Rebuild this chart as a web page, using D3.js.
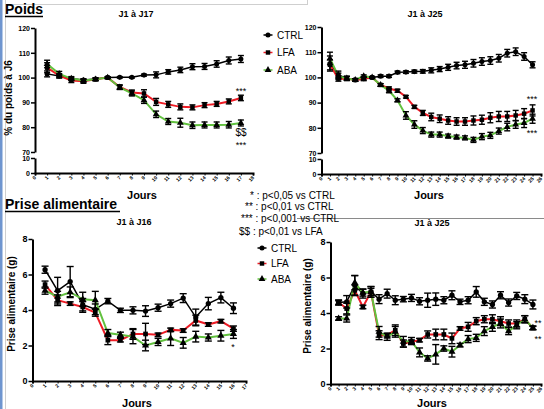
<!DOCTYPE html>
<html>
<head>
<meta charset="utf-8">
<script src="https://cdn.jsdelivr.net/npm/d3@7"></script>
<style>
  body { margin: 0; background: #fff; }
  svg { display: block; font-family: "Liberation Sans", Arial, sans-serif; }
  .tick text { fill: #000; }
</style>
</head>
<body>
<div id="chart"></div>
<script>
// ---- data ----
const series = ["CTRL", "LFA", "ABA"];
const seriesColors = ["#000000", "#ee1c25", "#62c13f"];

const daysJ17 = [1, 2, 3, 4, 5, 6, 7, 8, 9, 10, 11, 12, 13, 14, 15, 16, 17];
const poids17Ctrl = [101.5, 100.6, 99.6, 99.0, 99.4, 100, 100.1, 100.1, 101.0, 101.1, 102.3, 103.1, 104.4, 104.5, 105.5, 106.9, 107.5];
const poids17CtrlErr = [1.2, 0.8, 0.5, 0.5, 0.5, 0.3, 0.3, 0.3, 0.4, 1.2, 0.9, 1.1, 1.2, 1.2, 1.3, 1.4, 1.4];
const poids17Lfa = [104, 100.8, 98.8, 98.5, 99.3, 100, 96.2, 94.0, 93.6, 90.2, 89.2, 88.2, 88.0, 88.9, 89.4, 90.4, 91.8];
const poids17LfaErr = [2, 0.8, 0.8, 0.8, 0.5, 0.3, 0.9, 1.0, 1.5, 1.4, 1.2, 1.2, 1.0, 1.0, 1.0, 1.0, 1.1];
const poids17Aba = [105.5, 101.5, 99.6, 98.8, 99.3, 100, 96.0, 93.6, 90.9, 85.2, 82.3, 81.8, 80.8, 80.9, 80.9, 81.0, 81.7];
const poids17AbaErr = [1.5, 1.0, 0.8, 0.6, 0.5, 0.3, 0.8, 1.0, 1.3, 1.3, 1.2, 1.8, 1.3, 1.2, 1.2, 1.3, 1.2];

const daysJ25 = [1, 2, 3, 4, 5, 6, 7, 8, 9, 10, 11, 12, 13, 14, 15, 16, 17, 18, 19, 20, 21, 22, 23, 24, 25];
const poids25Ctrl = [105.5, 101, 99.6, 99, 99.5, 100, 100.5, 100.5, 102, 102.1, 102.3, 102.4, 102.8, 103.3, 104, 104.7, 105, 105.6, 106.3, 106.7, 107.6, 109.6, 110.2, 108.3, 105];
const poids25CtrlErr = [3, 1.5, 0.8, 0.5, 0.8, 0.3, 0.5, 0.5, 0.5, 0.5, 0.6, 0.7, 1.0, 1.0, 1.2, 1.3, 1.4, 1.5, 1.5, 1.5, 1.5, 1.5, 1.5, 1.5, 1.2];
const poids25Lfa = [105, 99.5, 99.6, 99, 99.5, 100, 97, 95.6, 94.7, 92.3, 88.3, 85.9, 84.3, 83.6, 82.9, 82.5, 82.5, 82.9, 83.2, 84, 84.5, 84.5, 84.9, 85.6, 86.9];
const poids25LfaErr = [2, 1, 0.8, 0.5, 0.5, 0.3, 0.5, 0.6, 0.6, 0.5, 0.6, 1.0, 1.5, 1.5, 1.5, 1.5, 1.5, 1.8, 1.8, 2, 2, 2, 2, 2, 2.2];
const poids25Aba = [107.5, 100.5, 99.6, 99, 100.5, 100, 97, 94.7, 90.9, 84.9, 81.3, 78.9, 77.3, 77.3, 76.7, 76.3, 76, 75.2, 76.5, 77, 78.7, 80.3, 81.3, 81.9, 83.6];
const poids25AbaErr = [2.5, 1.2, 0.8, 0.5, 0.5, 0.3, 0.5, 0.8, 0.6, 1.5, 1.5, 1.2, 1.0, 1.0, 0.8, 0.8, 0.8, 1.0, 1.2, 1.2, 1.2, 1.5, 1.5, 1.8, 1.8];

const daysJ16 = [1, 2, 3, 4, 5, 6, 7, 8, 9, 10, 11, 12, 13, 14, 15, 16];
const prise16Ctrl = [6.27, 5.09, 5.6, 4.3, 4.04, 4.5, 3.98, 3.98, 3.94, 4.13, 4.36, 4.67, 3.6, 4.36, 4.7, 4.1];
const prise16CtrlErr = [0.2, 0.75, 0.85, 0.35, 0.3, 0.15, 0.12, 0.2, 0.3, 0.2, 0.2, 0.25, 0.45, 0.35, 0.3, 0.3];
const prise16Lfa = [5.43, 4.55, 4.36, 4.17, 3.85, 2.3, 2.3, 2.65, 2.65, 2.6, 2.88, 2.84, 3.41, 3.18, 3.37, 2.95];
const prise16LfaErr = [0.2, 0.3, 0.1, 0.3, 0.2, 0.25, 0.1, 0.3, 0.6, 0.1, 0.1, 0.1, 0.3, 0.1, 0.1, 0.15];
const prise16Aba = [5.09, 4.75, 5.0, 4.6, 4.55, 2.7, 2.6, 2.5, 2.0, 2.2, 2.4, 2.15, 2.5, 2.45, 2.55, 2.65];
const prise16AbaErr = [0.2, 0.3, 0.3, 0.4, 0.5, 0.2, 0.15, 0.4, 0.3, 0.2, 0.4, 0.3, 0.3, 0.2, 0.3, 0.25];

const prise25Ctrl = [4.59, 4.63, 5.56, 5.09, 5.19, 4.78, 5.09, 4.72, 4.78, 4.85, 4.66, 4.72, 4.78, 4.72, 5.0, 4.63, 4.72, 5.19, 4.63, 4.48, 5.0, 4.59, 4.96, 4.78, 4.48];
const prise25CtrlErr = [0.15, 0.35, 0.55, 0.25, 0.3, 0.25, 0.25, 0.25, 0.15, 0.2, 0.2, 0.4, 0.35, 0.2, 0.25, 0.15, 0.2, 0.3, 0.2, 0.2, 0.2, 0.2, 0.2, 0.25, 0.25];
const prise25Lfa = [4.59, 4.25, 5.28, 4.34, 5.19, 2.75, 2.75, 3.03, 2.28, 2.38, 2.47, 2.79, 2.79, 2.79, 2.57, 3.13, 3.22, 3.54, 3.65, 3.65, 3.54, 3.41, 3.41, 3.65, 3.16];
const prise25LfaErr = [0.1, 0.3, 0.3, 0.1, 0.2, 0.25, 0.1, 0.3, 0.2, 0.1, 0.1, 0.2, 0.3, 0.3, 0.3, 0.1, 0.25, 0.2, 0.2, 0.25, 0.25, 0.2, 0.2, 0.2, 0.1];
const prise25Aba = [3.69, 3.69, 5.71, 5.15, 5.19, 2.94, 2.66, 2.94, 2.38, 2.42, 1.78, 1.44, 1.67, 2.0, 1.82, 2.19, 2.53, 2.6, 2.98, 3.22, 3.41, 2.98, 3.31, 3.65, 3.16];
const prise25AbaErr = [0.1, 0.2, 0.4, 0.2, 0.3, 0.3, 0.2, 0.3, 0.3, 0.2, 0.25, 0.15, 0.55, 0.15, 0.3, 0.1, 0.2, 0.2, 0.25, 0.25, 0.25, 0.2, 0.2, 0.2, 0.1];

const poidsTicksUpper = [70, 80, 90, 100, 110, 120];
const poidsTicksLower = [0, 10];
const priseTicks = [0, 2, 4, 6, 8];
const statNotes = ["* : p<0,05 vs CTRL", "** : p<0,01 vs CTRL", "*** : p<0,001 vs CTRL", "$$ : p<0,01 vs LFA"];

// ---- svg ----
const W = 544, H = 409;
const svg = d3.select("#chart").append("svg")
    .attr("width", W)
    .attr("height", H);

svg.append("rect").attr("width", W).attr("height", H).attr("fill", "#fff");

// slide frame bits
svg.append("rect").attr("x", 0).attr("y", 0).attr("width", 2.5).attr("height", H).attr("fill", "#6f95cf");
svg.append("line").attr("x1", 5.5).attr("x2", 5.5).attr("y1", 0).attr("y2", H).attr("stroke", "#cfcfcf");
svg.append("line").attr("x1", 5).attr("x2", 307).attr("y1", 4.5).attr("y2", 4.5).attr("stroke", "#cfcfcf");
svg.append("line").attr("x1", 307.5).attr("x2", 307.5).attr("y1", 0).attr("y2", 5).attr("stroke", "#cfcfcf");
svg.append("line").attr("x1", 297).attr("x2", W).attr("y1", 218.5).attr("y2", 218.5).attr("stroke", "#8a8a8a");

const markerShapes = [d3.symbolCircle, d3.symbolSquare, d3.symbolTriangle];

const drawPanel = (cfg) => {
  const g = svg.append("g");
  const x = d3.scaleLinear().domain([0, cfg.xMax]).range(cfg.xRange);
  const y = cfg.yScale;

  // x axis
  const xAxis = g.append("g")
      .attr("transform", `translate(0,${cfg.xAxisY})`)
      .call(d3.axisBottom(x).tickValues(d3.range(0, cfg.xMax + 1)).tickSize(2.5).tickFormat(d3.format("d")));
  xAxis.select(".domain").attr("stroke-width", 2);
  xAxis.selectAll(".tick line").attr("stroke-width", 1);
  xAxis.selectAll(".tick text")
      .attr("font-size", 5)
      .attr("font-weight", "bold")
      .attr("text-anchor", "end")
      .attr("transform", "translate(0,4) rotate(-45)")
      .attr("dy", "0.3em")
      .attr("y", 0)
      .attr("x", 0);

  // y axis (one or two segments)
  cfg.yAxes.forEach(ax => {
    const a = g.append("g")
        .attr("transform", `translate(${cfg.xRange[0]},0)`)
        .call(d3.axisLeft(ax.scale).tickValues(ax.ticks).tickSize(4).tickSizeOuter(0).tickPadding(1));
    a.select(".domain").attr("stroke-width", 2);
    a.selectAll(".tick line").attr("stroke-width", 1.5);
    a.selectAll(".tick text").attr("font-size", cfg.yFont).attr("font-weight", "bold");
  });

  // lines (CTRL, LFA, then ABA on top)
  cfg.data.forEach((s, i) => {
    const line = d3.line().x((d, k) => x(cfg.days[k])).y(d => y(d));
    g.append("path")
        .attr("d", line(s.values))
        .attr("fill", "none")
        .attr("stroke", seriesColors[i])
        .attr("stroke-width", i === 0 ? 1.5 : 2);
  });

  // error bars and markers
  cfg.data.forEach((s, i) => {
    const pts = s.values.map((v, k) => ({ day: cfg.days[k], v: v, e: s.err[k] }));
    const eg = g.append("g").attr("stroke", "#000").attr("stroke-width", 1.4);
    pts.forEach(p => {
      const cx = x(p.day), y1 = y(p.v + p.e), y2 = y(p.v - p.e);
      eg.append("line").attr("x1", cx).attr("x2", cx).attr("y1", y1).attr("y2", y2);
      eg.append("line").attr("x1", cx - cfg.cap).attr("x2", cx + cfg.cap).attr("y1", y1).attr("y2", y1);
      eg.append("line").attr("x1", cx - cfg.cap).attr("x2", cx + cfg.cap).attr("y1", y2).attr("y2", y2);
    });
    g.selectAll(null)
      .data(pts)
      .join("path")
        .attr("d", d3.symbol().type(markerShapes[i]).size(cfg.markerSize))
        .attr("transform", d => `translate(${x(d.day)},${y(d.v)})`)
        .attr("fill", "#000");
  });

  // titles
  g.append("text").text(cfg.title)
      .attr("x", cfg.titlePos[0]).attr("y", cfg.titlePos[1])
      .attr("text-anchor", "middle").attr("font-size", 9).attr("font-weight", "bold");
  g.append("text").text("Jours")
      .attr("x", cfg.joursPos[0]).attr("y", cfg.joursPos[1])
      .attr("text-anchor", "middle").attr("font-size", 11).attr("font-weight", "bold");
  if (cfg.yLabel) {
    g.append("text").text(cfg.yLabel)
        .attr("transform", `translate(${cfg.yLabelPos[0]},${cfg.yLabelPos[1]}) rotate(-90)`)
        .attr("text-anchor", "middle").attr("font-size", 10).attr("font-weight", "bold");
  }
  // significance marks
  (cfg.marks || []).forEach(m => {
    g.append("text").text(m.t)
        .attr("x", m.x).attr("y", m.y)
        .attr("text-anchor", "middle")
        .attr("font-size", m.size || 9)
        .attr("fill", "#000");
  });
};

// ---- Poids J1 à J17 ----
const p1Upper = d3.scaleLinear().domain([70, 120]).range([152, 28]);
const p1Lower = d3.scaleLinear().domain([0, 10]).range([173, 158]);
drawPanel({
  xMax: 18, xRange: [35, 253], xAxisY: 173,
  yScale: p1Upper,
  yAxes: [{ scale: p1Upper, ticks: poidsTicksUpper }, { scale: p1Lower, ticks: poidsTicksLower }],
  yFont: 7,
  days: daysJ17,
  data: [
    { values: poids17Ctrl, err: poids17CtrlErr },
    { values: poids17Lfa, err: poids17LfaErr },
    { values: poids17Aba, err: poids17AbaErr }
  ],
  cap: 3, markerSize: 20,
  title: "J1 à J17", titlePos: [136, 17],
  joursPos: [142, 199],
  yLabel: "% du poids à J6", yLabelPos: [12, 98],
  marks: [{ t: "***", x: 241, y: 94 }, { t: "$$", x: 241, y: 136, size: 10 }, { t: "***", x: 241, y: 148 }]
});

// ---- Poids J1 à J25 ----
const p2Upper = d3.scaleLinear().domain([70, 120]).range([153, 27]);
const p2Lower = d3.scaleLinear().domain([0, 10]).range([174, 159]);
drawPanel({
  xMax: 26, xRange: [321.5, 541], xAxisY: 174,
  yScale: p2Upper,
  yAxes: [{ scale: p2Upper, ticks: poidsTicksUpper }, { scale: p2Lower, ticks: poidsTicksLower }],
  yFont: 7,
  days: daysJ25,
  data: [
    { values: poids25Ctrl, err: poids25CtrlErr },
    { values: poids25Lfa, err: poids25LfaErr },
    { values: poids25Aba, err: poids25AbaErr }
  ],
  cap: 3, markerSize: 20,
  title: "J1 à J25", titlePos: [425, 17],
  joursPos: [429, 199],
  marks: [{ t: "***", x: 532, y: 102 }, { t: "***", x: 532, y: 136 }]
});

// ---- Prise alimentaire J1 à J16 ----
const p3Y = d3.scaleLinear().domain([0, 8]).range([381, 239]);
drawPanel({
  xMax: 17, xRange: [32.5, 246], xAxisY: 381,
  yScale: p3Y,
  yAxes: [{ scale: p3Y, ticks: priseTicks }],
  yFont: 9,
  days: daysJ16,
  data: [
    { values: prise16Ctrl, err: prise16CtrlErr },
    { values: prise16Lfa, err: prise16LfaErr },
    { values: prise16Aba, err: prise16AbaErr }
  ],
  cap: 3.5, markerSize: 22,
  title: "J1 à J16", titlePos: [134, 225],
  joursPos: [137, 407],
  yLabel: "Prise alimentaire (g)", yLabelPos: [15, 304],
  marks: [{ t: "*", x: 233, y: 350 }]
});

// ---- Prise alimentaire J1 à J25 ----
const p4Y = d3.scaleLinear().domain([0, 8]).range([384, 242]);
drawPanel({
  xMax: 26, xRange: [330.5, 541], xAxisY: 384,
  yScale: p4Y,
  yAxes: [{ scale: p4Y, ticks: priseTicks }],
  yFont: 9,
  days: daysJ25,
  data: [
    { values: prise25Ctrl, err: prise25CtrlErr },
    { values: prise25Lfa, err: prise25LfaErr },
    { values: prise25Aba, err: prise25AbaErr }
  ],
  cap: 3.5, markerSize: 22,
  title: "J1 à J25", titlePos: [432, 226],
  joursPos: [432, 407],
  yLabel: "Prise alimentaire (g)", yLabelPos: [311, 306],
  marks: [{ t: "**", x: 538, y: 326 }, { t: "**", x: 538, y: 342 }]
});

// ---- section headings ----
const headings = [["Poids", 5, 14, 43], ["Prise alimentaire", 5, 209, 120]];
headings.forEach(h => {
  svg.append("text").text(h[0])
      .attr("x", h[1]).attr("y", h[2])
      .attr("font-size", 14).attr("font-weight", "bold");
  svg.append("line")
      .attr("x1", h[1]).attr("x2", h[3]).attr("y1", h[2] + 2.5).attr("y2", h[2] + 2.5)
      .attr("stroke", "#000").attr("stroke-width", 1.3);
});

// ---- legends ----
const drawLegend = (lx, ly, step) => {
  series.forEach((name, i) => {
    const yy = ly + i * step;
    svg.append("line")
        .attr("x1", lx - 4.5).attr("x2", lx + 4.5).attr("y1", yy).attr("y2", yy)
        .attr("stroke", seriesColors[i]).attr("stroke-width", 1.5);
    svg.append("path")
        .attr("d", d3.symbol().type(markerShapes[i]).size(20))
        .attr("transform", `translate(${lx},${yy})`)
        .attr("fill", "#000");
    svg.append("text").text(name)
        .attr("x", lx + 9).attr("y", yy)
        .attr("dy", "0.35em")
        .attr("font-size", 10);
  });
};
drawLegend(268, 35, 17.5);
drawLegend(262, 248, 15.5);

// ---- stat notes ----
const noteX = [250, 245, 241, 239];
const noteY = [199, 210, 222, 235];
statNotes.forEach((t, i) => {
  svg.append("text").text(t)
      .attr("x", noteX[i]).attr("y", noteY[i])
      .attr("font-size", 10);
});
</script>
</body>
</html>
